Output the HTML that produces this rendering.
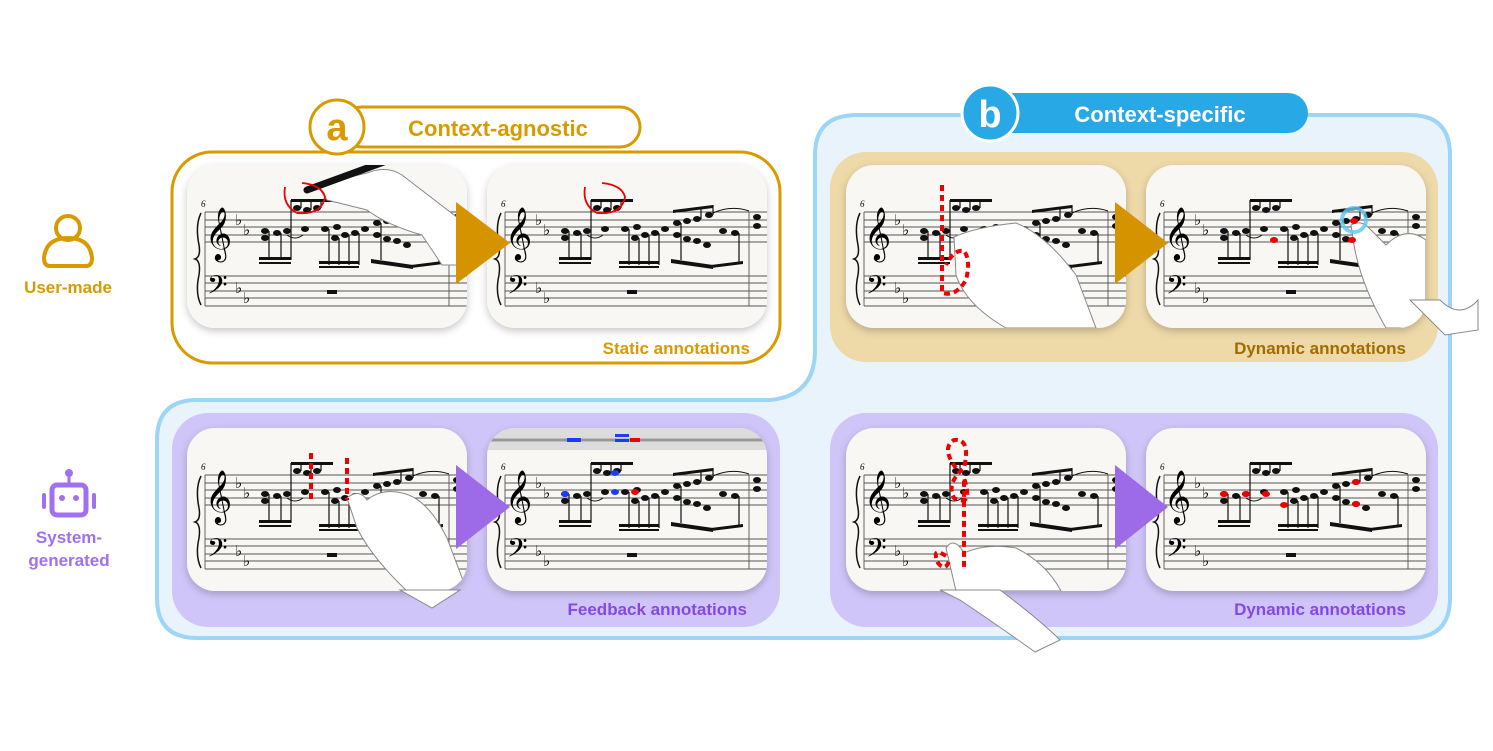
<!DOCTYPE html>
<html><head><meta charset="utf-8"><style>
html,body{margin:0;padding:0;background:#fff;}
svg{display:block;font-family:"Liberation Sans","DejaVu Sans",sans-serif;}
</style></head><body>
<svg width="1493" height="751" viewBox="0 0 1493 751" xmlns="http://www.w3.org/2000/svg">
<defs>
<filter id="sh" x="-10%" y="-10%" width="120%" height="130%"><feDropShadow dx="0" dy="3" stdDeviation="4" flood-color="#000" flood-opacity="0.22"/></filter>
<clipPath id="cc"><rect x="0" y="0" width="280" height="163" rx="28"/></clipPath>
<g id="score">
  <g stroke="#555" stroke-width="0.9">
    <line x1="18" y1="47" x2="280" y2="47"/><line x1="18" y1="55" x2="280" y2="55"/><line x1="18" y1="62" x2="280" y2="62"/><line x1="18" y1="70" x2="280" y2="70"/><line x1="18" y1="77" x2="280" y2="77"/>
    <line x1="18" y1="111" x2="280" y2="111"/><line x1="18" y1="118" x2="280" y2="118"/><line x1="18" y1="126" x2="280" y2="126"/><line x1="18" y1="133" x2="280" y2="133"/><line x1="18" y1="141" x2="280" y2="141"/>
    <line x1="18" y1="47" x2="18" y2="141"/><line x1="262" y1="47" x2="262" y2="141"/>
  </g>
  <path d="M14 48 Q8 60 12 80 Q14 92 8 94 Q14 96 12 110 Q8 128 14 140" fill="none" stroke="#111" stroke-width="1.5"/>
  <text x="14" y="42" font-size="9" font-style="italic" font-family="Liberation Serif,serif">6</text>
  <text x="18" y="84" font-size="46" font-family="DejaVu Sans,serif">𝄞</text>
  <text x="20" y="134" font-size="32" font-family="DejaVu Sans,serif">𝄢</text>
  <text x="48" y="60" font-size="15" font-family="DejaVu Sans">♭</text><text x="56" y="70" font-size="15" font-family="DejaVu Sans">♭</text>
  <text x="48" y="128" font-size="15" font-family="DejaVu Sans">♭</text><text x="56" y="138" font-size="15" font-family="DejaVu Sans">♭</text>
  <g fill="#111">
    <ellipse cx="78" cy="66" rx="4" ry="3"/><ellipse cx="78" cy="73" rx="4" ry="3"/><ellipse cx="90" cy="68" rx="4" ry="3"/><ellipse cx="100" cy="66" rx="4" ry="3"/>
    <ellipse cx="110" cy="43" rx="4" ry="3"/><ellipse cx="120" cy="45" rx="4" ry="3"/><ellipse cx="130" cy="43" rx="4" ry="3"/>
    <ellipse cx="118" cy="64" rx="4" ry="3"/><ellipse cx="138" cy="64" rx="4" ry="3"/><ellipse cx="148" cy="73" rx="4" ry="3"/><ellipse cx="158" cy="70" rx="4" ry="3"/><ellipse cx="168" cy="68" rx="4" ry="3"/><ellipse cx="150" cy="62" rx="4" ry="3"/>
    <ellipse cx="178" cy="64" rx="4" ry="3"/><ellipse cx="190" cy="70" rx="4" ry="3"/><ellipse cx="200" cy="74" rx="4" ry="3"/><ellipse cx="210" cy="76" rx="4" ry="3"/><ellipse cx="220" cy="80" rx="4" ry="3"/>
    <ellipse cx="190" cy="58" rx="4" ry="3"/><ellipse cx="200" cy="56" rx="4" ry="3"/><ellipse cx="210" cy="54" rx="4" ry="3"/><ellipse cx="222" cy="50" rx="4" ry="3"/>
    <ellipse cx="236" cy="66" rx="4" ry="3"/><ellipse cx="248" cy="68" rx="4" ry="3"/><ellipse cx="270" cy="52" rx="4" ry="3"/><ellipse cx="270" cy="61" rx="4" ry="3"/>
    <rect x="72" y="92" width="32" height="3"/><rect x="72" y="97" width="32" height="2"/>
    <rect x="104" y="34" width="42" height="3"/><rect x="132" y="96" width="40" height="3"/><rect x="132" y="101" width="40" height="2"/>
    <path d="M184 94 L226 100 L226 104 L184 98Z"/><path d="M186 45 L226 40 L226 43 L186 48Z"/><path d="M224 100 L256 96 L256 99 L224 103Z"/>
    <rect x="140" y="125" width="10" height="4"/>
  </g>
  <g stroke="#111" stroke-width="1.2">
    <line x1="82" y1="66" x2="82" y2="95"/><line x1="94" y1="68" x2="94" y2="95"/><line x1="104" y1="35" x2="104" y2="95"/>
    <line x1="114" y1="43" x2="114" y2="35"/><line x1="124" y1="45" x2="124" y2="35"/><line x1="134" y1="43" x2="134" y2="35"/>
    <line x1="142" y1="64" x2="142" y2="100"/><line x1="152" y1="73" x2="152" y2="100"/><line x1="162" y1="70" x2="162" y2="100"/><line x1="172" y1="68" x2="172" y2="100"/>
    <line x1="194" y1="58" x2="194" y2="95"/><line x1="214" y1="54" x2="214" y2="42"/><line x1="226" y1="50" x2="226" y2="40"/><line x1="252" y1="68" x2="252" y2="98"/>
  </g>
  <path d="M226 48 Q244 40 262 46" fill="none" stroke="#111" stroke-width="1"/>
  <path d="M100 70 Q108 76 116 70" fill="none" stroke="#111" stroke-width="1"/>
</g>
<g id="card"><rect x="0" y="0" width="280" height="163" rx="28" fill="#f8f7f3" filter="url(#sh)"/></g>
</defs>

<g fill="none" stroke="#d99a00" stroke-width="4">
  <circle cx="68" cy="228" r="12"/>
  <path d="M50 266 Q44 266 44 258 Q46 238 68 238 Q90 238 92 258 Q92 266 86 266 Z"/>
</g>
<text x="68" y="293" text-anchor="middle" font-size="17" font-weight="bold" fill="#d99a00">User-made</text>
<g fill="#a070ee">
  <circle cx="69" cy="473" r="4"/><rect x="67.5" y="475" width="3" height="9"/>
  <rect x="52" y="485" width="34" height="30" rx="5" fill="none" stroke="#a070ee" stroke-width="5"/>
  <circle cx="62" cy="498" r="3"/><circle cx="76" cy="498" r="3"/>
  <rect x="42" y="493" width="4" height="16" rx="2"/><rect x="92" y="493" width="4" height="16" rx="2"/>
</g>
<text x="69" y="543" text-anchor="middle" font-size="17" font-weight="bold" fill="#a070ee">System-</text>
<text x="69" y="566" text-anchor="middle" font-size="17" font-weight="bold" fill="#a070ee">generated</text>

<path d="M857 115 H1410 Q1450 115 1450 155 V598 Q1450 638 1410 638 H197 Q157 638 157 598 V440 Q157 400 197 400 H770 Q815 396 815 350 V155 Q815 115 857 115 Z" fill="#e9f3fc" stroke="#9dd5f6" stroke-width="4"/>

<rect x="172" y="152" width="608" height="211" rx="40" fill="#fff" stroke="#d99a00" stroke-width="3"/>
<rect x="342" y="107" width="298" height="40" rx="20" fill="#fff" stroke="#d99a00" stroke-width="3"/>
<circle cx="337" cy="127" r="27" fill="#fff" stroke="#d99a00" stroke-width="3"/>
<text x="337" y="140" text-anchor="middle" font-size="38" font-weight="bold" fill="#d99a00">a</text>
<text x="498" y="136" text-anchor="middle" font-size="22" font-weight="bold" fill="#d99a00">Context-agnostic</text>

<rect x="830" y="152" width="608" height="210" rx="36" fill="#eed9a8"/>
<rect x="172" y="413" width="608" height="214" rx="36" fill="#cfc5f8"/>
<rect x="830" y="413" width="608" height="214" rx="36" fill="#cfc5f8"/>

<rect x="985" y="93" width="323" height="40" rx="20" fill="#29a8e6"/>
<circle cx="990" cy="113" r="28" fill="#29a8e6" stroke="#fff" stroke-width="3"/>
<text x="990" y="127" text-anchor="middle" font-size="38" font-weight="bold" fill="#fff">b</text>
<text x="1160" y="122" text-anchor="middle" font-size="22" font-weight="bold" fill="#fff">Context-specific</text>

<g transform="translate(187,165)"><use href="#card"/><g clip-path="url(#cc)"><use href="#score"/>
  <path d="M130 20 L180 8 Q200 0 215 10 L280 60 L280 100 L255 100 L235 70 Q200 60 180 45 L140 35 Z" fill="#fff" stroke="#888" stroke-width="1"/>
  <path d="M120 25 L205 -6" stroke="#111" stroke-width="7" stroke-linecap="round"/>
  <path d="M98 22 Q95 40 110 48 Q135 50 138 32 Q135 20 115 18" fill="none" stroke="#e00" stroke-width="1.8"/></g></g>
<g transform="translate(487,165)"><use href="#card"/><g clip-path="url(#cc)"><use href="#score"/>
  <path d="M98 22 Q95 40 110 48 Q135 50 138 32 Q135 20 115 18" fill="none" stroke="#e00" stroke-width="1.8"/></g></g>
<g transform="translate(846,165)"><use href="#card"/><g clip-path="url(#cc)"><use href="#score"/>
  <path d="M108 72 Q130 62 170 58 Q200 70 230 110 L250 163 L160 163 Q120 140 110 110 Z" fill="#fff" stroke="#888" stroke-width="1"/>
  <path d="M96 20 V128 Q110 132 120 115 Q125 95 118 86 Q108 84 100 100" fill="none" stroke="#e00" stroke-width="4" stroke-dasharray="6 4"/></g></g>
<g transform="translate(1146,165)"><use href="#card"/><g clip-path="url(#cc)"><use href="#score"/>
  <path d="M205 60 Q215 55 222 62 L240 80 Q260 60 280 75 L280 163 L240 163 Q215 120 208 80 Z" fill="#fff" stroke="#888" stroke-width="1"/>
  <circle cx="208" cy="55" r="12" fill="none" stroke="#5cc8f0" stroke-width="4" opacity="0.8"/>
  <ellipse cx="208" cy="56" rx="4" ry="3" fill="#e00"/><ellipse cx="206" cy="75" rx="4" ry="3" fill="#e00"/><ellipse cx="128" cy="75" rx="4" ry="3" fill="#e00"/></g></g>
<g transform="translate(187,428)"><use href="#card"/><g clip-path="url(#cc)"><use href="#score"/>
  <path d="M160 70 Q172 60 180 72 Q195 60 215 65 Q240 70 260 110 L280 163 L220 163 Q185 130 170 100 Z" fill="#fff" stroke="#888" stroke-width="1"/>
  <path d="M124 25 V75 M160 30 V72" stroke="#e00" stroke-width="4" stroke-dasharray="6 4"/></g></g>
<g transform="translate(487,428)"><use href="#card"/><g clip-path="url(#cc)"><rect x="0" y="0" width="280" height="22" fill="#dcdcdc"/><line x1="0" y1="12" x2="280" y2="12" stroke="#999" stroke-width="3"/><use href="#score"/>
  <rect x="80" y="10" width="14" height="4" fill="#1a3cff"/><rect x="128" y="6" width="14" height="3" fill="#1a3cff"/><rect x="128" y="11" width="14" height="3" fill="#1a3cff"/><rect x="143" y="10" width="10" height="4" fill="#e00"/>
  <ellipse cx="78" cy="66" rx="4" ry="3" fill="#1a3cff"/><ellipse cx="128" cy="45" rx="4" ry="3" fill="#1a3cff"/><ellipse cx="128" cy="64" rx="4" ry="3" fill="#1a3cff"/><ellipse cx="148" cy="64" rx="4" ry="3" fill="#e00"/></g></g>
<g transform="translate(846,428)"><use href="#card"/><g clip-path="url(#cc)"><use href="#score"/>
  <path d="M100 120 Q108 108 118 125 Q140 115 170 120 Q200 135 215 163 L110 163 Z" fill="#fff" stroke="#888" stroke-width="1"/>
  <path d="M110 40 Q95 20 108 12 Q125 10 118 40 Q100 55 108 70 Q128 80 118 50 V140 M100 128 Q85 118 92 135 Q100 145 104 130" fill="none" stroke="#e00" stroke-width="4" stroke-dasharray="6 4"/></g></g>
<g transform="translate(1146,428)"><use href="#card"/><g clip-path="url(#cc)"><use href="#score"/>
  <ellipse cx="78" cy="66" rx="4" ry="3" fill="#e00"/><ellipse cx="100" cy="66" rx="4" ry="3" fill="#e00"/><ellipse cx="120" cy="66" rx="4" ry="3" fill="#e00"/><ellipse cx="138" cy="77" rx="4" ry="3" fill="#e00"/><ellipse cx="210" cy="54" rx="4" ry="3" fill="#e00"/><ellipse cx="210" cy="76" rx="4" ry="3" fill="#e00"/></g></g>

<path d="M940 590 L1000 590 Q1040 620 1060 640 L1035 652 Q990 620 960 600 Z" fill="#fff" stroke="#888" stroke-width="1"/>
<path d="M400 590 L460 590 L432 608 Z" fill="#fff" stroke="#888" stroke-width="1"/>
<path d="M1410 300 L1440 300 Q1460 320 1478 300 L1478 330 L1445 335 Z" fill="#fff" stroke="#888" stroke-width="1"/>

<polygon points="456,202 510,243 456,284" fill="#d69300"/>
<polygon points="1115,202 1168,243 1115,284" fill="#d69300"/>
<polygon points="456,465 510,507 456,549" fill="#9d6ae8"/>
<polygon points="1115,465 1168,507 1115,549" fill="#9d6ae8"/>

<text x="750" y="354" text-anchor="end" font-size="17" font-weight="bold" fill="#d99a00">Static annotations</text>
<text x="1406" y="354" text-anchor="end" font-size="17" font-weight="bold" fill="#a06c00">Dynamic annotations</text>
<text x="747" y="615" text-anchor="end" font-size="17" font-weight="bold" fill="#8548e8">Feedback annotations</text>
<text x="1406" y="615" text-anchor="end" font-size="17" font-weight="bold" fill="#8548e8">Dynamic annotations</text>
</svg>
</body></html>
